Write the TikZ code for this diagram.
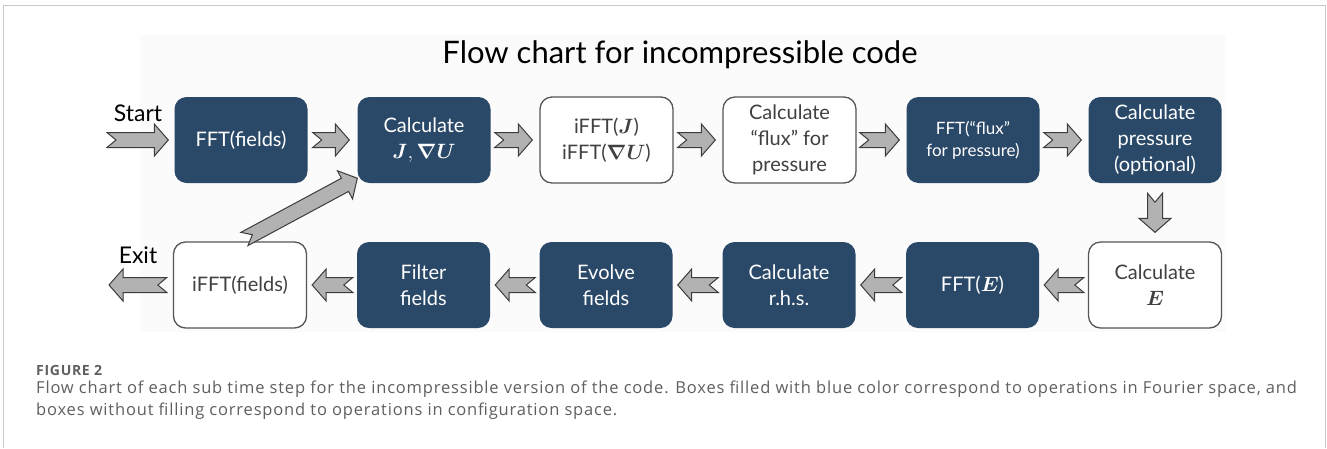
\documentclass[tikz,border=0pt]{standalone}
\usepackage{fontspec}
\usepackage{amsmath}
\setmainfont{Lato}
\newfontfamily\capfont[LetterSpace=5]{Open Sans}
\usetikzlibrary{calc}

\definecolor{boxblue}{RGB}{42,72,104}
\definecolor{boxline}{RGB}{85,85,85}
\definecolor{arrowfill}{RGB}{178,178,178}
\definecolor{arrowline}{RGB}{60,60,60}
\definecolor{framegray}{RGB}{200,200,200}
\definecolor{captext}{RGB}{95,95,95}
\definecolor{backdrop}{RGB}{251,251,252}

\tikzset{
  opbox/.style={rounded corners=12pt, minimum width=133pt, minimum height=86pt,
    inner sep=2pt, align=center, font=\fontsize{20}{26}\selectfont},
  fourier/.style={opbox, fill=boxblue, text=white},
  config/.style={opbox, draw=boxline, line width=1.3pt, fill=white, text=black!75},
  blockarr/.style={fill=arrowfill, draw=arrowline, line width=1pt, line join=miter},
  caption/.style={anchor=base west, inner sep=0pt, text=captext,
    font=\capfont\fontsize{16.5}{18}\selectfont},
}

% block arrow with notched tail: from, to, tail gap, head gap
\newcommand{\blockarrow}[4]{%
  \coordinate (ba-s) at ($(#1)!#3!(#2)$);
  \coordinate (ba-e) at ($(#2)!#4!(#1)$);
  \coordinate (ba-n) at ($(ba-s)!9pt!(ba-e)$);
  \coordinate (ba-h) at ($(ba-e)!14pt!(ba-s)$);
  \draw[blockarr] ($(ba-s)!7.5pt!90:(ba-e)$) -- (ba-n) -- ($(ba-s)!7.5pt!-90:(ba-e)$)
    -- ($(ba-h)!7.5pt!-90:(ba-e)$) -- ($(ba-h)!16pt!-90:(ba-e)$) -- (ba-e)
    -- ($(ba-h)!16pt!90:(ba-e)$) -- ($(ba-h)!7.5pt!90:(ba-e)$) -- cycle;
}

\begin{document}
\begin{tikzpicture}[x=1pt, y=-1pt]
    \useasboundingbox (0,0) rectangle (1327,448);
    % ---- frame and backdrop ----
    \draw[framegray, line width=1pt] (3.5,448) |- (1325.5,5) -- (1325.5,448);
    \fill[backdrop] (140,35) rectangle (1226,332);
    % ---- title ----
    \node (title) at (680,55) {\fontsize{31}{36}\selectfont Flow chart for incompressible code};
    % ---- upper row ----
    \node[fourier] (fft)   at (241,140)   {FFT(fields)};
    \node[fourier] (calcj) at (424,140)   {Calculate\\ $\boldsymbol{J},\boldsymbol{\nabla}\boldsymbol{U}$};
    \node[config]  (ifftj) at (606.5,140) {iFFT($\boldsymbol{J}$)\\ iFFT($\boldsymbol{\nabla}\boldsymbol{U}$)};
    \node[config]  (flux)  at (789.5,140) {Calculate\\ “flux" for\\ pressure};
    \node[fourier, font=\fontsize{17}{22}\selectfont] (fftflux) at (973,140) {FFT(“flux”\\ for pressure)};
    \node[fourier] (press) at (1155,140)  {Calculate\\ pressure\\ (optional)};
    % ---- lower row ----
    \node[config]  (ifft)   at (240,285)    {iFFT(fields)};
    \node[fourier] (filter) at (423.5,285)  {Filter\\ fields};
    \node[fourier] (evolve) at (606,285)    {Evolve\\ fields};
    \node[fourier] (rhs)    at (789,285)    {Calculate\\ r.h.s.};
    \node[fourier] (ffte)   at (972.5,285)  {FFT($\boldsymbol{E}$)};
    \node[config]  (calce)  at (1155,285)   {Calculate\\ $\boldsymbol{E}$};
    % ---- entry and exit ----
    \coordinate (start) at (107,140);
    \coordinate (exit)  at (109,285);
    \coordinate (jin)   at ($(calcj.south west)+(0,-5)$);
    \node[font=\fontsize{23}{26}\selectfont] (startlabel) at (138,113) {Start};
    \node[font=\fontsize{23}{26}\selectfont] (exitlabel)  at (138,255) {Exit};
    % ---- arrows ----
    \blockarrow{start}{fft.west}{0pt}{6pt}
    \blockarrow{fft.east}{calcj.west}{5pt}{8pt}
    \blockarrow{calcj.east}{ifftj.west}{4pt}{7pt}
    \blockarrow{ifftj.east}{flux.west}{4pt}{7pt}
    \blockarrow{flux.east}{fftflux.west}{3pt}{7pt}
    \blockarrow{fftflux.east}{press.west}{4pt}{7pt}
    \blockarrow{press.south}{calce.north}{10pt}{9pt}
    \blockarrow{calce.west}{ffte.east}{4pt}{5pt}
    \blockarrow{ffte.west}{rhs.east}{4pt}{5pt}
    \blockarrow{rhs.west}{evolve.east}{4pt}{5pt}
    \blockarrow{evolve.west}{filter.east}{4pt}{5pt}
    \blockarrow{filter.west}{ifft.east}{4pt}{5pt}
    \blockarrow{ifft.west}{exit}{6pt}{0pt}
    \blockarrow{ifft.north}{jin}{5pt}{0pt}
    % ---- caption ----
    \node[caption, font=\capfont\bfseries\fontsize{14}{16}\selectfont] (figlabel) at (36,375) {FIGURE 2};
    \node[caption] (capline1) at (36,393) {Flow chart of each sub time step for the incompressible version of the code. Boxes filled with blue color correspond to operations in Fourier space, and};
    \node[caption] (capline2) at (36,415) {boxes without filling correspond to operations in configuration space.};
\end{tikzpicture}
\end{document}
